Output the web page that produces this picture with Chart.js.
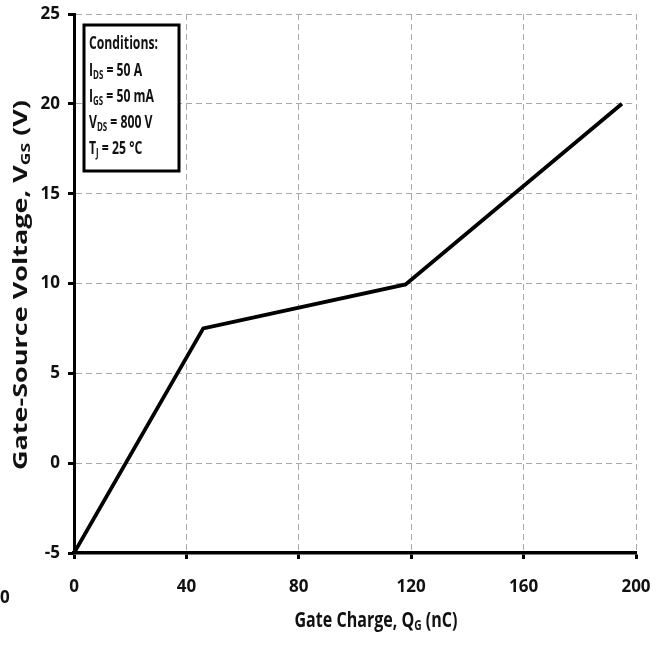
<!DOCTYPE html>
<html>
<head>
<meta charset="utf-8">
<script src="https://cdn.jsdelivr.net/npm/chart.js@4/dist/chart.umd.min.js"></script>
<style>
  html, body { margin: 0; padding: 0; background: #fff; }
  #wrap { width: 662px; height: 645px; position: relative; }
</style>
</head>
<body>
<div id="wrap"><canvas id="chart"></canvas></div>
<script>
// Gate charge curve (nC, V)
const chargeNC = [0, 46, 118, 195];
const gateVolts = [-5, 7.5, 9.95, 20];
const xTicks = [0, 40, 80, 120, 160, 200];
const yTicks = [-5, 0, 5, 10, 15, 20, 25];
const conditions = [
  ["Conditions:"],
  ["I", "DS", " = 50 A"],
  ["I", "GS", " = 50 mA"],
  ["V", "DS", " = 800 V"],
  ["T", "J", " = 25 °C"],
];

const font = "'Open Sans', sans-serif";

function subWidth(ctx, main, sub, rest, size) {
  ctx.font = "bold " + size + "px " + font;
  let w = ctx.measureText(main).width + ctx.measureText(rest || "").width;
  ctx.font = "bold " + Math.round(size * 0.65) + "px " + font;
  w += ctx.measureText(sub || "").width;
  return w;
}

// "main + subscript + rest" at x,y, squeezed horizontally by sx
function subText(ctx, x, y, main, sub, rest, size, sx) {
  ctx.save();
  ctx.translate(x, y);
  ctx.scale(sx, 1);
  let cx = 0;
  ctx.font = "bold " + size + "px " + font;
  ctx.fillText(main, cx, 0);
  cx += ctx.measureText(main).width;
  if (sub) {
    ctx.font = "bold " + Math.round(size * 0.65) + "px " + font;
    ctx.fillText(sub, cx, size * 0.25);
    cx += ctx.measureText(sub).width;
  }
  if (rest) {
    ctx.font = "bold " + size + "px " + font;
    ctx.fillText(rest, cx, 0);
  }
  ctx.restore();
}

const extras = {
  id: "extras",
  afterDraw(chart) {
    const ctx = chart.ctx;
    ctx.save();
    ctx.textBaseline = "middle";
    ctx.textAlign = "left";

    // conditions box
    ctx.fillStyle = "#fff";
    ctx.fillRect(84, 25, 95, 146);
    ctx.strokeStyle = "#000";
    ctx.lineWidth = 3;
    ctx.strokeRect(84, 25, 95, 146);
    ctx.fillStyle = "#111";
    const cs = 18.5;
    ctx.font = "bold " + cs + "px " + font;
    const csx = 69 / ctx.measureText("Conditions:").width;
    const rows = [44, 71, 97, 123, 149];
    conditions.forEach((c, i) => {
      subText(ctx, 89, rows[i], c[0], c[1], c[2], cs, csx);
    });

    // x axis title
    const xs = 22;
    const xw = subWidth(ctx, "Gate Charge, Q", "G", " (nC)", xs);
    subText(ctx, 376 - 163 / 2, 621, "Gate Charge, Q", "G", " (nC)", xs, 163 / xw);

    // y axis title (rotated)
    ctx.translate(21, 285);
    ctx.rotate(-Math.PI / 2);
    const ys = 20;
    const yw = subWidth(ctx, "Gate-Source Voltage, V", "GS", " (V)", ys);
    subText(ctx, -185, 0, "Gate-Source Voltage, V", "GS", " (V)", ys, 370 / yw);
    ctx.restore();

    // stray label at bottom left of the original
    ctx.save();
    ctx.fillStyle = "#111";
    ctx.font = "bold 17px " + font;
    ctx.textBaseline = "middle";
    ctx.fillText("0", 0, 598);
    ctx.restore();
  },
};

new Chart(document.getElementById("chart"), {
  type: "line",
  data: {
    datasets: [
      {
        data: chargeNC.map((x, i) => ({ x: x, y: gateVolts[i] })),
        borderColor: "#000",
        borderWidth: 3.8,
        pointRadius: 0,
        tension: 0,
        fill: false,
      },
    ],
  },
  options: {
    responsive: true,
    maintainAspectRatio: false,
    animation: false,
    layout: { padding: { top: 14, right: 26, left: 0, bottom: 0 } },
    plugins: { legend: { display: false }, tooltip: { enabled: false } },
    scales: {
      x: {
        type: "linear",
        min: 0,
        max: 200,
        afterBuildTicks: (s) => { s.ticks = xTicks.map((v) => ({ value: v })); },
        afterFit: (s) => { s.height = 92; s.paddingLeft = 0; s.paddingRight = 0; },
        ticks: { color: "#111", font: { family: font, size: 17, weight: "bold" }, padding: 18, maxRotation: 0 },
        grid: { color: "#a8a8a8", lineWidth: 1, tickColor: "#000", tickLength: 6, tickWidth: 3 },
        border: { color: "#000", width: 3.5, dash: [6, 4] },
      },
      y: {
        min: -5,
        max: 25,
        afterBuildTicks: (s) => { s.ticks = yTicks.map((v) => ({ value: v })); },
        afterFit: (s) => { s.width = 74; s.paddingTop = 0; s.paddingBottom = 0; },
        ticks: { color: "#111", font: { family: font, size: 17, weight: "bold" }, padding: 8 },
        grid: { color: "#a8a8a8", lineWidth: 1, tickColor: "#000", tickLength: 6, tickWidth: 3 },
        border: { color: "#000", width: 3, dash: [6, 4] },
      },
    },
  },
  plugins: [extras],
});
</script>
</body>
</html>
